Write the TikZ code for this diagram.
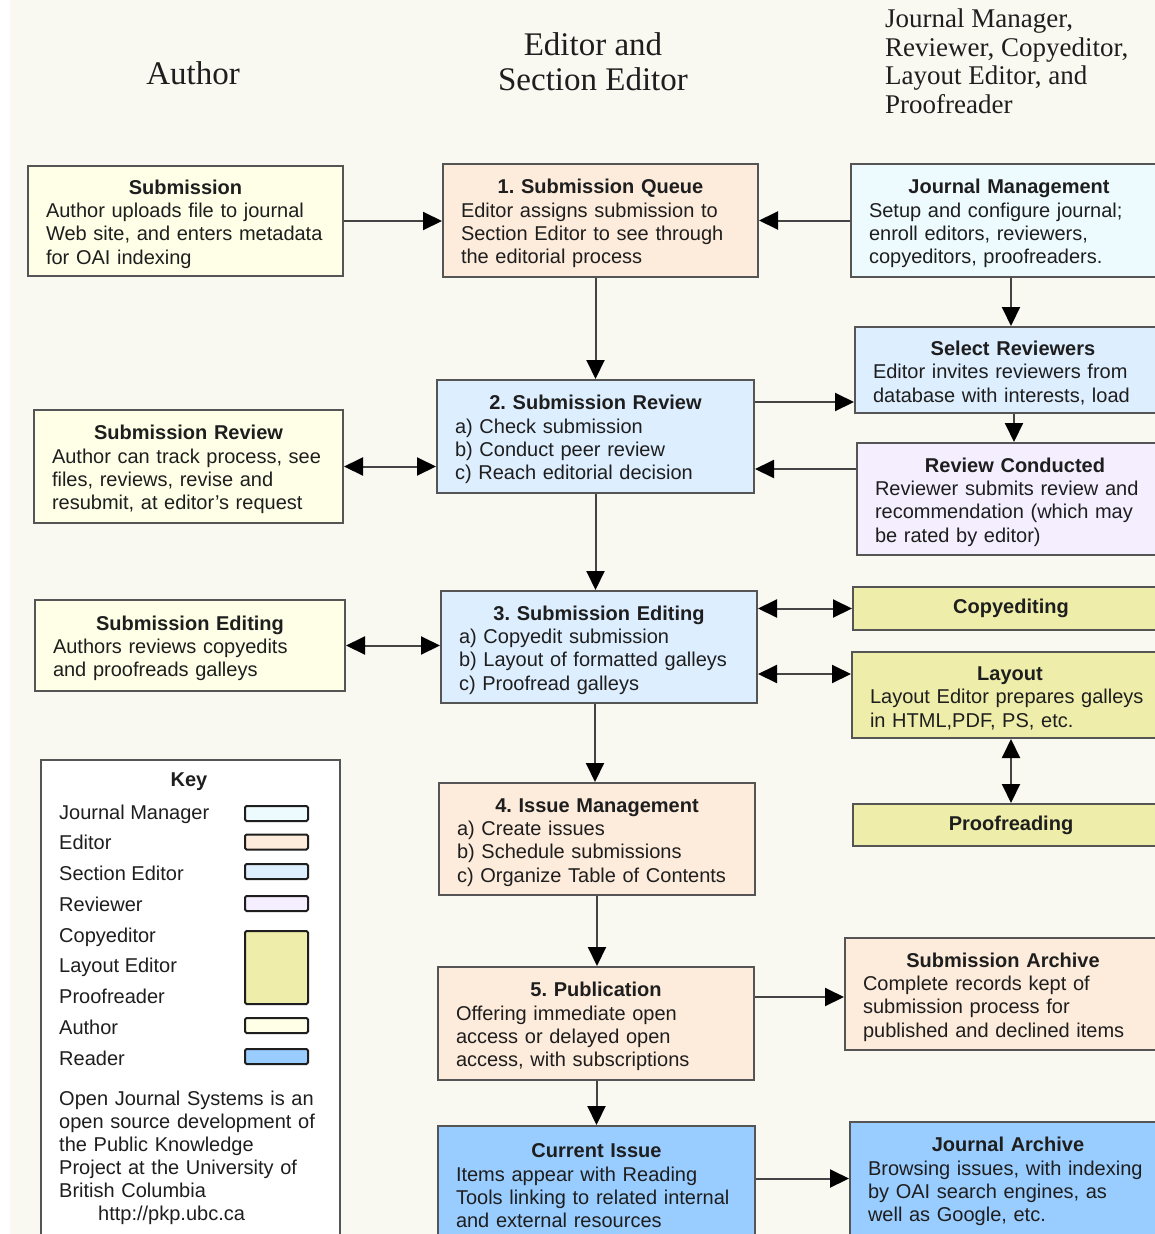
\documentclass[tikz,border=0pt]{standalone}
\usepackage{fontspec}
\setmainfont{Liberation Sans}
\newfontfamily\hdrfont{Liberation Serif}
\usetikzlibrary{arrows.meta}
\definecolor{bgc}{HTML}{F9F9F2}
\definecolor{cAuth}{HTML}{FFFFE8}
\definecolor{cEd}{HTML}{FDEBDB}
\definecolor{cSE}{HTML}{DDEEFF}
\definecolor{cJM}{HTML}{EEFBFE}
\definecolor{cRev}{HTML}{F4EEFE}
\definecolor{cCopy}{HTML}{EEEEAA}
\definecolor{cRead}{HTML}{99CCFF}
\definecolor{bord}{HTML}{555555}
\definecolor{lnc}{HTML}{444444}
\definecolor{ink}{HTML}{1E1E1E}
\newcommand{\ttl}[1]{{\centering\bfseries\rule{0pt}{20.5pt}#1\par}}
\frenchspacing
\begin{document}
\begin{tikzpicture}[x=1pt,y=-1pt,
  bx/.style={draw=bord, line width=2pt, inner xsep=18pt, inner ysep=0pt, align=left, text=ink, font=\fontsize{20}{23.3}\selectfont},
  arr/.style={draw=lnc, line width=2pt, -{Triangle[length=19pt,width=18pt,color=black]}},
  darr/.style={draw=lnc, line width=2pt, {Triangle[length=19pt,width=18pt,color=black]}-{Triangle[length=19pt,width=18pt,color=black]}},
  hdr/.style={font=\hdrfont\fontsize{33}{35}\selectfont, text=ink, align=center, inner sep=0pt},
  sw/.style={draw=ink, line width=2pt, rounded corners=1.5pt, inner sep=0pt, minimum width=63pt},
  klab/.style={anchor=base west, inner sep=0pt, text=ink, font=\fontsize{20}{23}\selectfont}
]
\useasboundingbox (0,0) rectangle (1155,1234);
\clip (0,0) rectangle (1155,1234);
\fill[white] (0,0) rectangle (1155,1234);
\fill[bgc] (10,0) rectangle (1155,1234);

% headers
\node[hdr] (hA) at (193,73) {Author};
\node[hdr] (hE) at (593,61.5) {Editor and\\Section Editor};
\node[hdr, font=\hdrfont\fontsize{27}{28.5}\selectfont, align=left, anchor=west] (hJ) at (885,61.5) {Journal Manager,\\Reviewer, Copyeditor,\\Layout Editor, and\\Proofreader};

% author column
\node[bx, fill=cAuth, text width=279pt, minimum height=110pt] (asub) at (185.5,221) {\ttl{Submission}Author uploads file to journal\\Web site, and enters metadata\\for OAI indexing};
\node[bx, fill=cAuth, text width=273pt, minimum height=113pt] (arev) at (188.5,466.5) {\ttl{Submission Review}Author can track process, see\\files, reviews, revise and\\resubmit, at editor's request};
\node[bx, fill=cAuth, text width=274pt, minimum height=91pt] (aedit) at (190,645.5) {\ttl{Submission Editing}Authors reviews copyedits\\and proofreads galleys};

% editor column
\node[bx, fill=cEd, text width=279pt, minimum height=113pt] (q1) at (600.5,220.5) {\ttl{1. Submission Queue}Editor assigns submission to\\Section Editor to see through\\the editorial process};
\node[bx, fill=cSE, text width=281pt, minimum height=113pt] (r2) at (595.5,436.5) {\ttl{2. Submission Review}a) Check submission\\b) Conduct peer review\\c) Reach editorial decision};
\node[bx, fill=cSE, text width=280pt, minimum height=112pt] (e3) at (599,647) {\ttl{3. Submission Editing}a) Copyedit submission\\b) Layout of formatted galleys\\c) Proofread galleys};
\node[bx, fill=cEd, text width=280pt, minimum height=112pt] (i4) at (597,839) {\ttl{4. Issue Management}a) Create issues\\b) Schedule submissions\\c) Organize Table of Contents};
\node[bx, fill=cEd, text width=280pt, minimum height=113pt] (p5) at (596,1023.5) {\ttl{5. Publication}Offering immediate open\\access or delayed open\\access, with subscriptions};
\node[bx, fill=cRead, text width=281pt, minimum height=113pt] (cur) at (596.5,1182.5) {\ttl{Current Issue}Items appear with Reading\\Tools linking to related internal\\and external resources};

% right column
\node[bx, fill=cJM, text width=280pt, minimum height=113pt] (jm) at (1009,220.5) {\ttl{Journal Management}Setup and configure journal;\\enroll editors, reviewers,\\copyeditors, proofreaders.};
\node[bx, fill=cSE, text width=280pt, minimum height=86pt] (sel) at (1013,370) {\ttl{Select Reviewers}Editor invites reviewers from\\database with interests, load};
\node[bx, fill=cRev, text width=280pt, minimum height=112pt] (rc) at (1015,499) {\ttl{Review Conducted}Reviewer submits review and\\recommendation (which may\\be rated by editor)};
\node[bx, fill=cCopy, text width=280pt, minimum height=43pt] (cpy) at (1011,608.5) {{\centering\bfseries Copyediting\par}};
\node[bx, fill=cCopy, text width=280pt, minimum height=86pt] (lay) at (1010,695) {\ttl{Layout}Layout Editor prepares galleys\\in HTML,PDF, PS, etc.};
\node[bx, fill=cCopy, text width=280pt, minimum height=42pt] (prf) at (1011,825) {{\centering\bfseries Proofreading\par}};
\node[bx, fill=cEd, text width=280pt, minimum height=112pt] (sarch) at (1003,994) {\ttl{Submission Archive}Complete records kept of\\submission process for\\published and declined items};
\node[bx, fill=cRead, text width=280pt, minimum height=113pt] (jarch) at (1008,1178.5) {\ttl{Journal Archive}Browsing issues, with indexing\\by OAI search engines, as\\well as Google, etc.};

% key
\node[draw=bord, fill=white, line width=2pt, minimum width=299pt, minimum height=520pt, inner sep=0pt, anchor=north west] (key) at (40,759) {};
\node[inner sep=0pt, text=ink, font=\fontsize{20}{23}\selectfont\bfseries] (keyt) at (189,782) {Key};
\node[klab] (kl1) at (59,819) {Journal Manager};
\node[klab] (kl2) at (59,849) {Editor};
\node[klab] (kl3) at (59,880) {Section Editor};
\node[klab] (kl4) at (59,911) {Reviewer};
\node[klab] (kl5) at (59,942) {Copyeditor};
\node[klab] (kl6) at (59,972) {Layout Editor};
\node[klab] (kl7) at (59,1003) {Proofreader};
\node[klab] (kl8) at (59,1034) {Author};
\node[klab] (kl9) at (59,1065) {Reader};
\node[sw, fill=cJM, minimum height=15pt] (s1) at (276.5,813.5) {};
\node[sw, fill=cEd, minimum height=15pt] (s2) at (276.5,842) {};
\node[sw, fill=cSE, minimum height=15pt] (s3) at (276.5,871.5) {};
\node[sw, fill=cRev, minimum height=15pt] (s4) at (276.5,903.5) {};
\node[sw, fill=cCopy, minimum height=73pt] (s5) at (276.5,967.5) {};
\node[sw, fill=cAuth, minimum height=15pt] (s6) at (276.5,1025.5) {};
\node[sw, fill=cRead, minimum height=15pt] (s7) at (276.5,1056.5) {};
\node[klab, text width=270pt, align=left] (kp) at (59,1105) {Open Journal Systems is an\\open source development of\\the Public Knowledge\\Project at the University of\\British Columbia\\\hspace*{39pt}http://pkp.ubc.ca};

% connectors
\draw[arr] (asub.east) -- (asub.east -| q1.west);
\draw[arr] (jm.west) -- (jm.west -| q1.east);
\draw[arr] (q1.south -| r2.north) -- (r2.north);
\draw[arr] ([xshift=2pt]jm.south) -- ([xshift=-2pt]sel.north);
\draw[arr] ([yshift=34.5pt]r2.east) -- ([yshift=34.5pt]r2.east -| sel.west);
\draw[arr] ([xshift=1pt]sel.south) -- ([xshift=1pt]sel.south |- rc.north);
\draw[arr] ([yshift=30pt]rc.west) -- ([yshift=30pt]rc.west -| r2.east);
\draw[darr] (arev.east) -- (arev.east -| r2.west);
\draw[arr] (r2.south) -- (r2.south |- e3.north);
\draw[darr] (cpy.west -| e3.east) -- (cpy.west);
\draw[darr] ([yshift=21pt]lay.west -| e3.east) -- ([yshift=21pt]lay.west);
\draw[darr] (prf.north |- lay.south) -- (prf.north);
\draw[darr] (aedit.east) -- (aedit.east -| e3.west);
\draw[arr] ([xshift=-2pt]i4.north |- e3.south) -- ([xshift=-2pt]i4.north);
\draw[arr] (i4.south) -- (i4.south |- p5.north);
\draw[arr] ([yshift=-3pt]sarch.west -| p5.east) -- ([yshift=-3pt]sarch.west);
\draw[arr] (cur.north |- p5.south) -- (cur.north);
\draw[arr] (jarch.west -| cur.east) -- (jarch.west);
\end{tikzpicture}
\end{document}
